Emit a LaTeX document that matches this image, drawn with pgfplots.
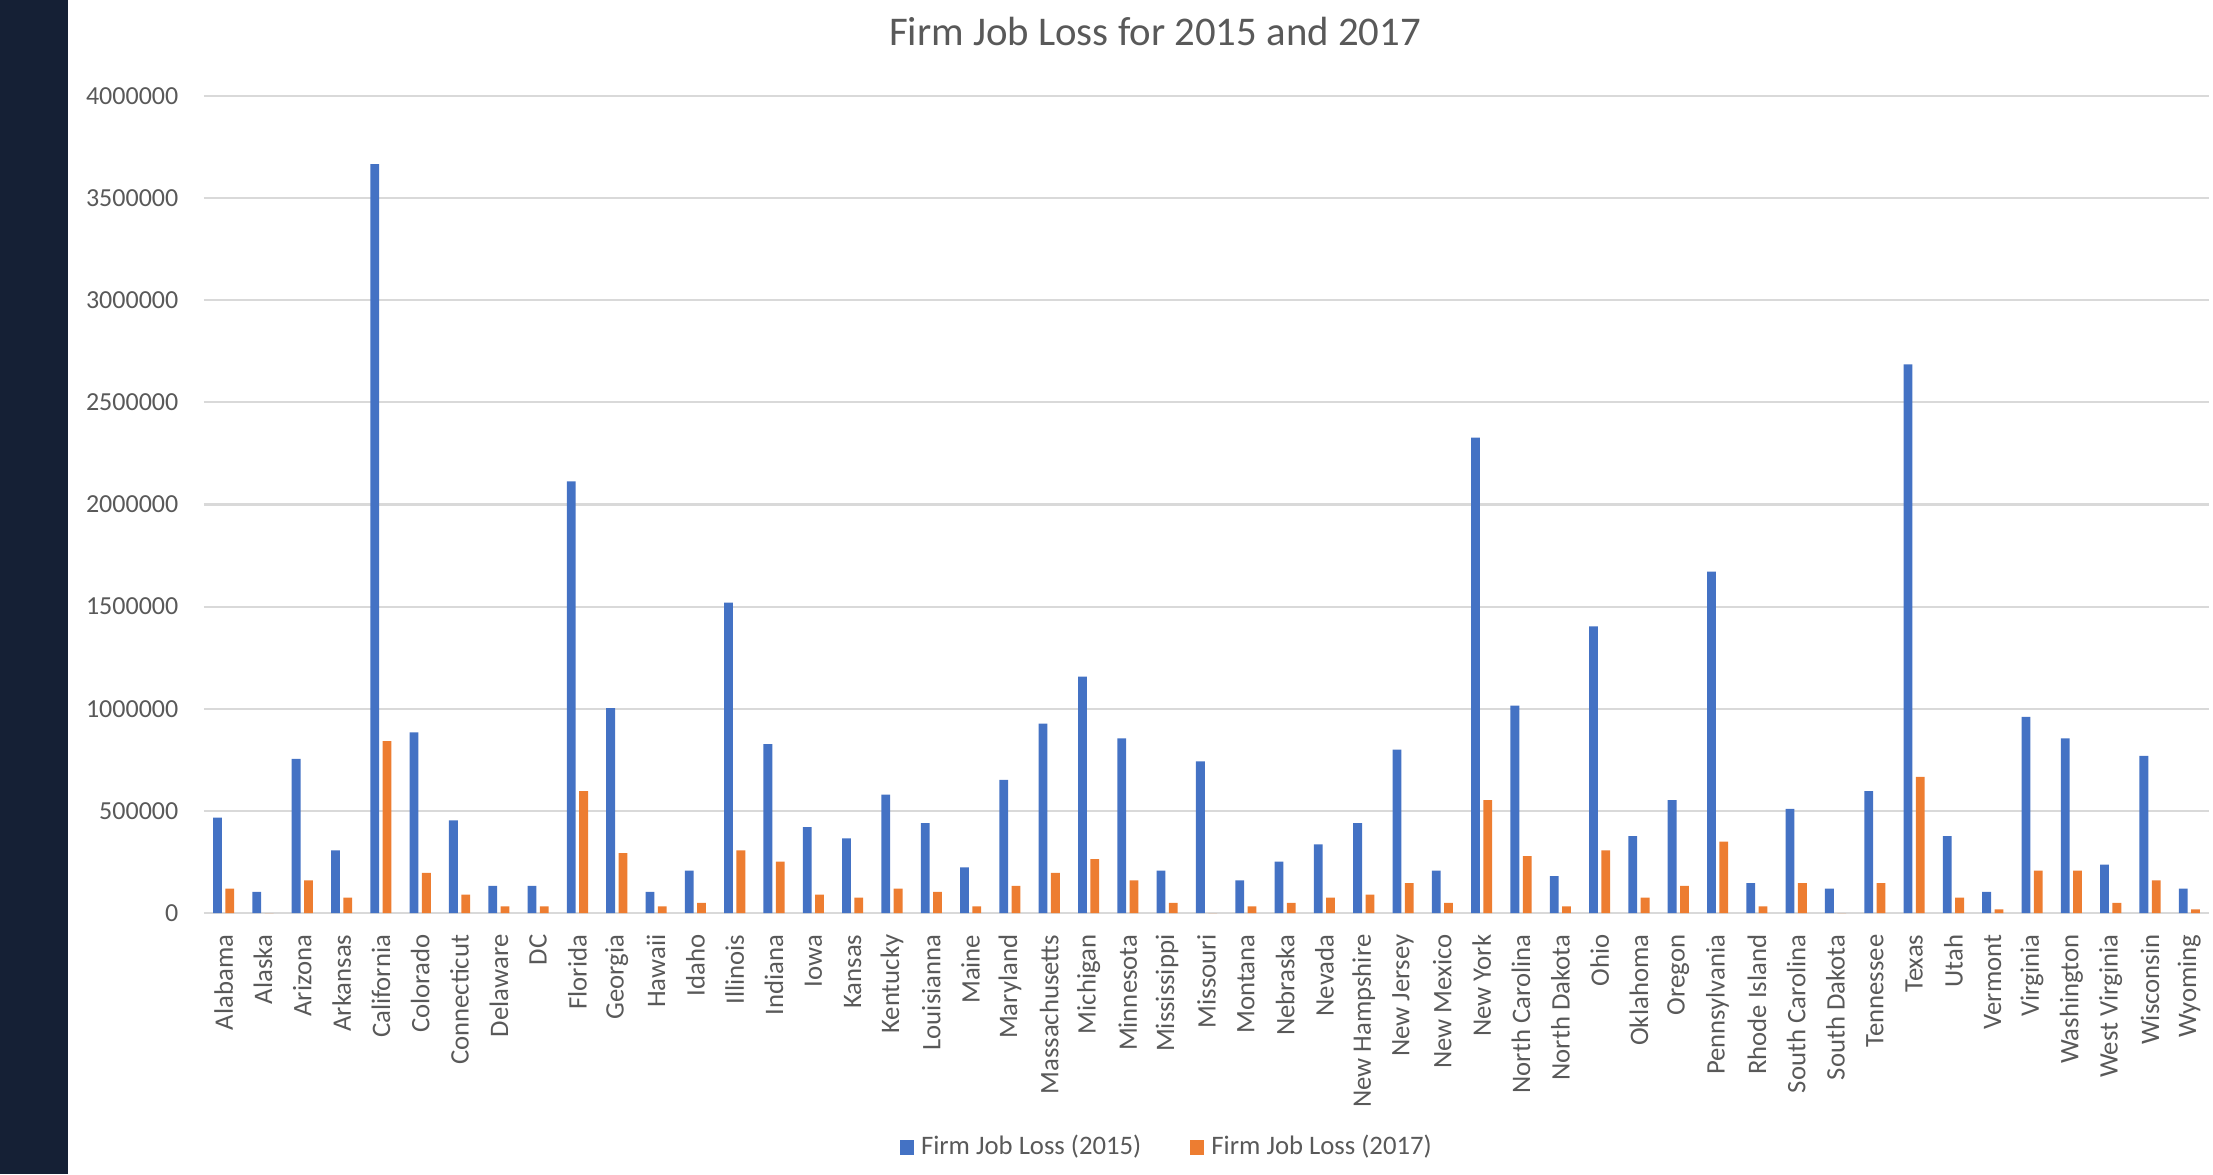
\documentclass[border=0pt]{standalone}
\usepackage{pgfplots}
\usepackage{pgfplotstable}
\pgfplotsset{compat=1.18}
\usepackage{fontspec}
\setmainfont{Carlito}

\definecolor{blue15}{HTML}{4472C4}
\definecolor{orange17}{HTML}{ED7D31}
\definecolor{gridgray}{HTML}{D9D9D9}
\definecolor{txtgray}{HTML}{595959}
\definecolor{strip}{HTML}{152035}

% idx  2015  2017
\pgfplotstableread{
x y
0 467000
1 104000
2 755000
3 307000
4 3667000
5 884000
6 453000
7 133000
8 133000
9 2113000
10 1003000
11 104000
12 208000
13 1520000
14 827000
15 420000
16 365000
17 580000
18 440000
19 223000
20 652000
21 927000
22 1157000
23 855000
24 208000
25 742000
26 160000
27 252000
28 336000
29 440000
30 800000
31 208000
32 2327000
33 1015000
34 180000
35 1403000
36 377000
37 553000
38 1671000
39 146000
40 510000
41 119000
42 597000
43 2686000
44 377000
45 104000
46 960000
47 855000
48 237000
49 769000
50 119000
}\lossA

\pgfplotstableread{
x y
0 119000
1 0
2 160000
3 75000
4 841000
5 196000
6 90000
7 32000
8 32000
9 597000
10 293000
11 32000
12 49000
13 307000
14 252000
15 90000
16 75000
17 119000
18 104000
19 32000
20 133000
21 196000
22 264000
23 160000
24 49000
25 0
26 32000
27 49000
28 75000
29 90000
30 146000
31 49000
32 553000
33 279000
34 32000
35 307000
36 75000
37 133000
38 350000
39 32000
40 146000
41 0
42 146000
43 667000
44 75000
45 18000
46 208000
47 208000
48 49000
49 160000
50 18000
}\lossB

\begin{document}
\begin{tikzpicture}
\useasboundingbox (0,0) rectangle (22.13,11.74);
\fill[strip] (0,0) rectangle (0.68,11.74);

\begin{axis}[
    at={(2.04cm,2.61cm)}, anchor=south west,
    scale only axis,
    width=20.05cm, height=8.17cm,
    xmin=-0.5, xmax=50.5,
    ymin=0, ymax=4000000,
    clip=false,
    ybar=0.035cm,
    bar width=0.088cm,
    axis line style={draw=none},
    major tick length=0,
    ymajorgrids,
    major grid style={gridgray, line width=0.6pt},
    scaled y ticks=false,
    ytick={0,500000,1000000,1500000,2000000,2500000,3000000,3500000,4000000},
    yticklabels={0,500000,1000000,1500000,2000000,2500000,3000000,3500000,4000000},
    xtick={0,...,50},
    xticklabels={Alabama,Alaska,Arizona,Arkansas,California,Colorado,Connecticut,Delaware,DC,Florida,Georgia,Hawaii,Idaho,Illinois,Indiana,Iowa,Kansas,Kentucky,Louisianna,Maine,Maryland,Massachusetts,Michigan,Minnesota,Mississippi,Missouri,Montana,Nebraska,Nevada,New Hampshire,New Jersey,New Mexico,New York,North Carolina,North Dakota,Ohio,Oklahoma,Oregon,Pennsylvania,Rhode Island,South Carolina,South Dakota,Tennessee,Texas,Utah,Vermont,Virginia,Washington,West Virginia,Wisconsin,Wyoming},
    ticklabel style={font=\fontsize{7.4}{9}\selectfont, text=txtgray},
    yticklabel style={anchor=east, inner sep=0pt, xshift=-0.25cm},
    xticklabel style={rotate=90, anchor=east, inner sep=0pt, xshift=-0.21cm, font=\fontsize{7.6}{9}\selectfont},
    legend style={at={(0.4815,-0.287)}, anchor=center, draw=none, fill=none,
        font=\fontsize{7.6}{9}\selectfont, text=txtgray,
        legend columns=2, /tikz/every even column/.append style={column sep=0.42cm}},
    legend image code/.code={\fill[#1] (0cm,-0.075cm) rectangle (0.14cm,0.075cm);},
]
\addplot[fill=blue15, draw=none] table {\lossA};
\addplot[fill=orange17, draw=none] table {\lossB};
\legend{Firm Job Loss (2015), Firm Job Loss (2017)}
\end{axis}

\node[text=txtgray, font=\fontsize{11.6}{14}\selectfont] at (11.55,11.43) {Firm Job Loss for 2015 and 2017};
\end{tikzpicture}
\end{document}
